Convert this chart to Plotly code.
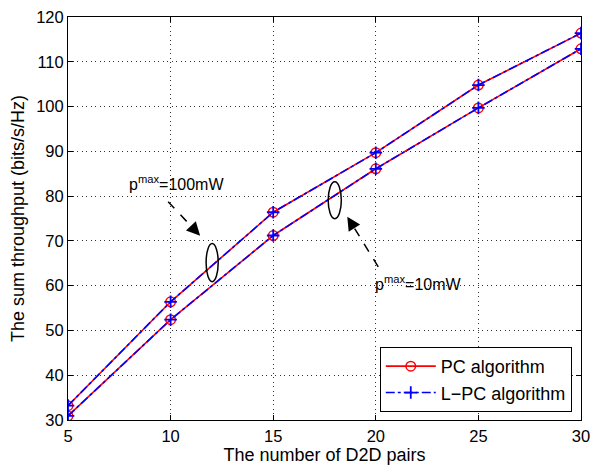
import plotly.graph_objects as go

# Number of D2D pairs
pairs = [5, 10, 15, 20, 25, 30]

# Sum throughput (bits/s/Hz), p_max = 100 mW
pc_100 = [33.2, 56.4, 76.4, 89.7, 104.8, 116.4]
lpc_100 = [33.2, 56.4, 76.4, 89.7, 104.8, 116.4]

# Sum throughput (bits/s/Hz), p_max = 10 mW
pc_10 = [30.9, 52.4, 71.2, 86.1, 99.7, 112.9]
lpc_10 = [30.9, 52.4, 71.2, 86.1, 99.7, 112.9]

x_ticks = [5, 10, 15, 20, 25, 30]
y_ticks = [30, 40, 50, 60, 70, 80, 90, 100, 110, 120]

FONT = "Arial, Liberation Sans, sans-serif"
RED = "#ff0000"
BLUE = "#0000ff"

fig = go.Figure()

pc_style = dict(
    mode="lines+markers",
    line=dict(color=RED, width=1.6),
    marker=dict(symbol="circle-open", size=9.5, color=RED, line=dict(width=1.5, color=RED)),
)
lpc_style = dict(
    mode="lines+markers",
    line=dict(color=BLUE, width=1.6, dash="dashdot"),
    marker=dict(symbol="cross-thin-open", size=9, color=BLUE, line=dict(width=1.8, color=BLUE)),
)

fig.add_trace(go.Scatter(x=pairs, y=pc_100, name="PC algorithm", legendgroup="pc", **pc_style))
fig.add_trace(go.Scatter(x=pairs, y=pc_10, name="PC algorithm", legendgroup="pc", showlegend=False, **pc_style))
fig.add_trace(go.Scatter(x=pairs, y=lpc_100, name="L\u2212PC algorithm", legendgroup="lpc", **lpc_style))
fig.add_trace(go.Scatter(x=pairs, y=lpc_10, name="L\u2212PC algorithm", legendgroup="lpc", showlegend=False, **lpc_style))

# Ellipses grouping the two curve families
fig.add_shape(type="circle", xref="x", yref="y", x0=11.73, x1=12.32, y0=60.9, y1=69.4,
              line=dict(color="black", width=1.5))
fig.add_shape(type="circle", xref="x", yref="y", x0=17.68, x1=18.32, y0=74.95, y1=83.2,
              line=dict(color="black", width=1.5))

# Dashed arrow shafts
fig.add_shape(type="line", xref="x", yref="y", x0=9.88, y0=78.75, x1=11.1, y1=72.8,
              line=dict(color="black", width=1.5, dash="dash"))
fig.add_shape(type="line", xref="x", yref="y", x0=20.12, y0=64.2, x1=18.95, y1=72.9,
              line=dict(color="black", width=1.5, dash="dash"))

# Arrow heads
fig.add_annotation(x=11.44, y=71.15, xref="x", yref="y", ax=-9.6, ay=-10.2, text="",
                   showarrow=True, arrowhead=2, arrowsize=1.8, arrowwidth=1.5, arrowcolor="black")
fig.add_annotation(x=18.61, y=75.4, xref="x", yref="y", ax=7.4, ay=11.9, text="",
                   showarrow=True, arrowhead=2, arrowsize=1.8, arrowwidth=1.5, arrowcolor="black")

# Labels
fig.add_annotation(x=10.3, y=83.0, xref="x", yref="y", text="p<sup>max</sup>=100mW",
                   showarrow=False, font=dict(family=FONT, size=16, color="black"))
fig.add_annotation(x=22.1, y=60.7, xref="x", yref="y", text="p<sup>max</sup>=10mW",
                   showarrow=False, font=dict(family=FONT, size=16, color="black"))

axis_common = dict(
    showline=True, linecolor="black", linewidth=1, mirror="ticks",
    ticks="inside", ticklen=5, tickcolor="black",
    showgrid=True, gridcolor="#333333", griddash="1px,3.5px", gridwidth=1,
    zeroline=False, automargin=False,
    tickfont=dict(family=FONT, size=16.5, color="black"),
)

fig.update_xaxes(range=[5, 30], tickvals=x_ticks, ticklabelstandoff=1,
                 title=dict(text="The number of D2D pairs", font=dict(family=FONT, size=18, color="black"),
                            standoff=2),
                 **axis_common)
fig.update_yaxes(range=[30, 120], tickvals=y_ticks, ticklabelstandoff=0,
                 title=dict(text="The sum throughput (bits/s/Hz)", font=dict(family=FONT, size=18, color="black"),
                            standoff=6),
                 **axis_common)

fig.update_layout(
    width=591, height=467,
    margin=dict(l=68, r=10, t=17, b=47),
    paper_bgcolor="white", plot_bgcolor="white",
    font=dict(family=FONT, size=16, color="black"),
    legend=dict(
        x=0.982, y=0.02, xanchor="right", yanchor="bottom",
        bgcolor="white", bordercolor="black", borderwidth=1,
        font=dict(family=FONT, size=18, color="black"),
        tracegroupgap=0, itemwidth=50,
    ),
    showlegend=True,
)

fig.write_html("out.html")
